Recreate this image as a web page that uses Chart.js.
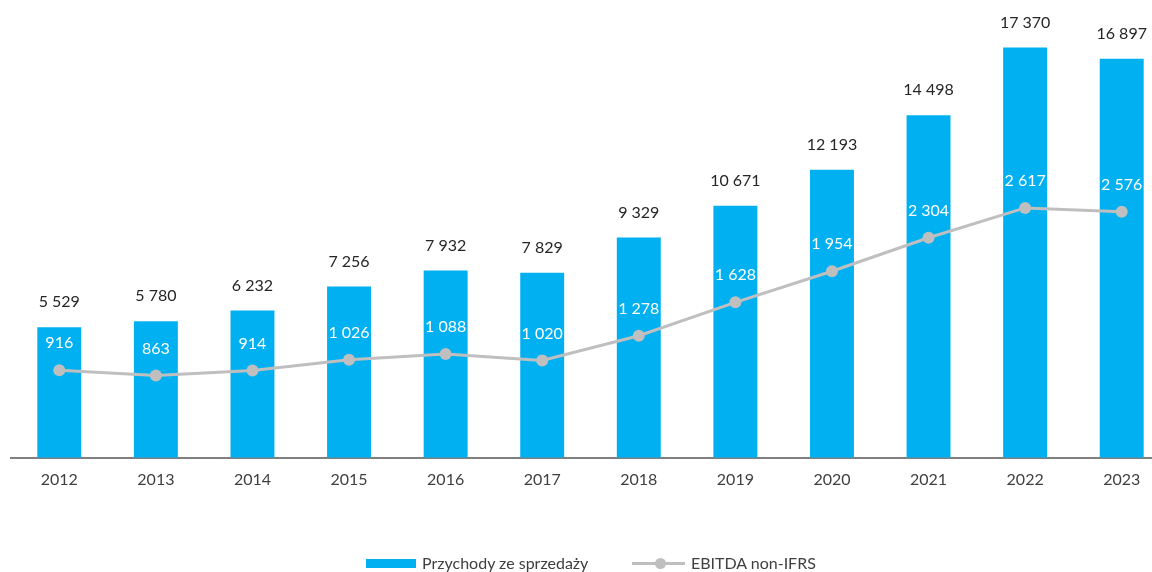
<!DOCTYPE html>
<html>
<head>
<meta charset="utf-8">
<script src="https://cdn.jsdelivr.net/npm/chart.js@4"></script>
<style>
  html, body { margin: 0; padding: 0; background: #fff; overflow: hidden; }
  #wrap { position: relative; width: 1152px; height: 572px; overflow: hidden; }
  #box { position: absolute; left: 0; top: 0; width: 1176px; height: 572px; }
  .lg { position: absolute; font: 16px Lato, sans-serif; color: #404040; line-height: 20px; }
  .sw { position: absolute; left: 366px; top: 559px; width: 50px; height: 9px; background: #00B0F0; }
  .ln { position: absolute; left: 632px; top: 562px; width: 53px; height: 3px; background: #BFBFBF; }
  .dot { position: absolute; left: 655px; top: 558px; width: 11px; height: 11px; border-radius: 50%; background: #BFBFBF; }
</style>
</head>
<body>
<div id="wrap">
  <div id="box"><canvas id="c"></canvas></div>
  <div class="sw"></div>
  <div class="lg" style="left:422px; top:553px;">Przychody ze sprzedaży</div>
  <div class="ln"></div>
  <div class="dot"></div>
  <div class="lg" style="left:691px; top:553px;">EBITDA non-IFRS</div>
</div>
<script>
const years = ["2012", "2013", "2014", "2015", "2016", "2017", "2018", "2019", "2020", "2021", "2022", "2023"];
const revenue = [5529, 5780, 6232, 7256, 7932, 7829, 9329, 10671, 12193, 14498, 17370, 16897];
const ebitda = [916, 863, 914, 1026, 1088, 1020, 1278, 1628, 1954, 2304, 2617, 2576];

const BLUE = "#00B0F0";
const GRAY = "#BFBFBF";
const fmt = v => String(v).replace(/\B(?=(\d{3})+(?!\d))/g, " ");

// value labels above bars (black) and above points (white)
const valueLabels = {
  id: "valueLabels",
  afterDatasetsDraw(chart) {
    const ctx = chart.ctx;
    ctx.save();
    ctx.font = "16px Lato, sans-serif";
    ctx.textAlign = "center";
    ctx.textBaseline = "middle";
    chart.getDatasetMeta(1).data.forEach((bar, i) => {
      ctx.fillStyle = "#262626";
      ctx.fillText(fmt(revenue[i]), bar.x, bar.y - 25);
    });
    chart.getDatasetMeta(0).data.forEach((pt, i) => {
      ctx.fillStyle = "#ffffff";
      ctx.fillText(fmt(ebitda[i]), pt.x, pt.y - 27);
    });
    ctx.restore();
  }
};

new Chart(document.getElementById("c"), {
  data: {
    labels: years,
    datasets: [
      {
        type: "line", label: "EBITDA non-IFRS", data: ebitda, yAxisID: "y1", order: 1,
        borderColor: GRAY, backgroundColor: GRAY, borderWidth: 3, tension: 0,
        pointRadius: 6, pointHoverRadius: 6, pointBackgroundColor: GRAY, pointBorderWidth: 0
      },
      {
        type: "bar", label: "Przychody ze sprzedaży", data: revenue, yAxisID: "y", order: 2,
        backgroundColor: BLUE, barPercentage: 0.455, categoryPercentage: 1
      }
    ]
  },
  options: {
    responsive: true,
    maintainAspectRatio: false,
    animation: false,
    layout: { padding: { left: 11, right: 0, top: 9, bottom: 79 } },
    plugins: { legend: { display: false }, tooltip: { enabled: false } },
    scales: {
      x: {
        grid: { display: false },
        border: { display: true, color: "#808080", width: 2 },
        ticks: { color: "#404040", font: { family: "Lato", size: 16 }, padding: 4 }
      },
      y: { display: false, min: 0, max: 19000 },
      y1: { display: false, min: 0, max: 4700 }
    }
  },
  plugins: [valueLabels]
});
</script>
</body>
</html>
